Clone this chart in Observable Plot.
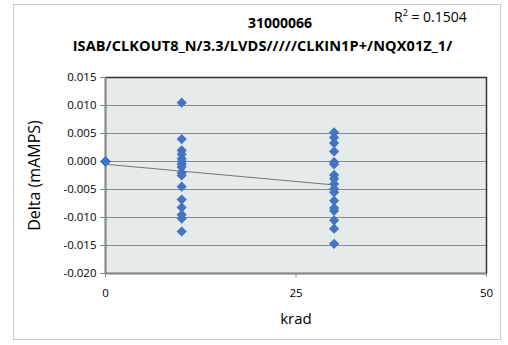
<!DOCTYPE html>
<html>
<head>
<meta charset="utf-8">
<script src="https://cdn.jsdelivr.net/npm/d3@7"></script>
<script src="https://cdn.jsdelivr.net/npm/@observablehq/plot@0.6"></script>
<style>
  html, body { margin: 0; padding: 0; background: #fff; }
  #wrap { position: relative; width: 508px; height: 345px; font-family: "Open Sans", "Liberation Sans", sans-serif; }
  #border { position: absolute; left: 13px; top: 4px; width: 488px; height: 336px; border: 1px solid #c8c8c8; box-sizing: border-box; }
  .t { position: absolute; color: #000; white-space: nowrap; }
  #title1 { left: 0; width: 560px; top: 13px; text-align: center; font-weight: bold; font-size: 14px; }
  #title2 { left: 0; width: 525px; top: 36px; text-align: center; font-weight: bold; font-size: 14.5px; letter-spacing: 0.1px; }
  #r2 { left: 394px; top: 6px; font-size: 14px; }
  svg { position: absolute; left: 0; top: 0; }
</style>
</head>
<body>
<div id="wrap">
  <div id="border"></div>
  <div class="t" id="title1">31000066</div>
  <div class="t" id="title2">ISAB/CLKOUT8_N/3.3/LVDS/////CLKIN1P+/NQX01Z_1/</div>
  <div class="t" id="r2">R<sup style="font-size:9px;vertical-align:6px">2</sup> = 0.1504</div>
</div>
<script>
const titleText = "31000066";
const subtitleText = "ISAB/CLKOUT8_N/3.3/LVDS/////CLKIN1P+/NQX01Z_1/";
const r2Text = "R² = 0.1504";
const xLabel = "krad";
const yLabel = "Delta (mAMPS)";
const xTicks = [0, 25, 50];
const yTicks = [-0.020, -0.015, -0.010, -0.005, 0.000, 0.005, 0.010, 0.015];

// delta at 0 krad (all units start at zero)
const delta0 = [0,0,0,0,0,0,0,0,0,0,0,0,0,0,0,0];
// delta at 10 krad
const delta10 = [0.0105, 0.0040, 0.0020, 0.0013, 0.0005, 0.0000, -0.0005, -0.0010, -0.0020, -0.0025, -0.0045, -0.0068, -0.0082, -0.0095, -0.0102, -0.0125];
// delta at 30 krad
const delta30 = [0.0052, 0.0043, 0.0033, 0.0018, -0.0001, -0.0005, -0.0024, -0.0031, -0.0040, -0.0049, -0.0055, -0.0070, -0.0083, -0.0088, -0.0105, -0.0120, -0.0147];

const data = [
  ...delta0.map(v => ({krad: 0, delta: v})),
  ...delta10.map(v => ({krad: 10, delta: v})),
  ...delta30.map(v => ({krad: 30, delta: v}))
];

const chart = Plot.plot({
  width: 508,
  height: 345,
  marginLeft: 105,
  marginRight: 22,
  marginTop: 77,
  marginBottom: 72,
  style: { fontFamily: "'Open Sans', 'Liberation Sans', sans-serif", fontSize: "11px", background: "transparent" },
  x: { domain: [0, 50], ticks: xTicks, tickFormat: d => String(d), label: null },
  y: { domain: [-0.020, 0.015], ticks: yTicks, tickFormat: d => d.toFixed(3), label: null },
  marks: [
    Plot.frame({ fill: "#e5ebeb", stroke: "none" }),
    Plot.gridY(yTicks, { stroke: "#8a8a8a", strokeOpacity: 1, strokeWidth: 1 }),
    Plot.frame({ stroke: "#333", strokeWidth: 1.5 }),
    Plot.ruleX([0], { stroke: "#888", strokeWidth: 1.5 }),
    Plot.ruleY([-0.020], { stroke: "#888", strokeWidth: 1.5 }),
    Plot.axisX({ ticks: xTicks, tickFormat: d => String(d), tickSize: 4, tickPadding: 11, stroke: "#888", fontSize: 11.5, color: "#000", label: null }),
    Plot.axisY({ ticks: yTicks, tickFormat: d => d.toFixed(3), tickSize: 5, tickPadding: 4, stroke: "#888", fontSize: 11.5, color: "#000", label: null }),
    Plot.text([xLabel], { frameAnchor: "bottom", dy: 50, fontSize: 15, fill: "#000" }),
    Plot.text([yLabel], { frameAnchor: "left", textAnchor: "middle", dx: -71, rotate: -90, fontSize: 16, fill: "#000" }),
    Plot.linearRegressionY(data, { x: "krad", y: "delta", ci: 0, stroke: "#555", strokeWidth: 0.8 }),
    Plot.dot(data, { x: "krad", y: "delta", symbol: "diamond2", r: 4.6, fill: "#4472c4", stroke: "none" })
  ]
});
document.getElementById("wrap").prepend(chart);
</script>
</body>
</html>
